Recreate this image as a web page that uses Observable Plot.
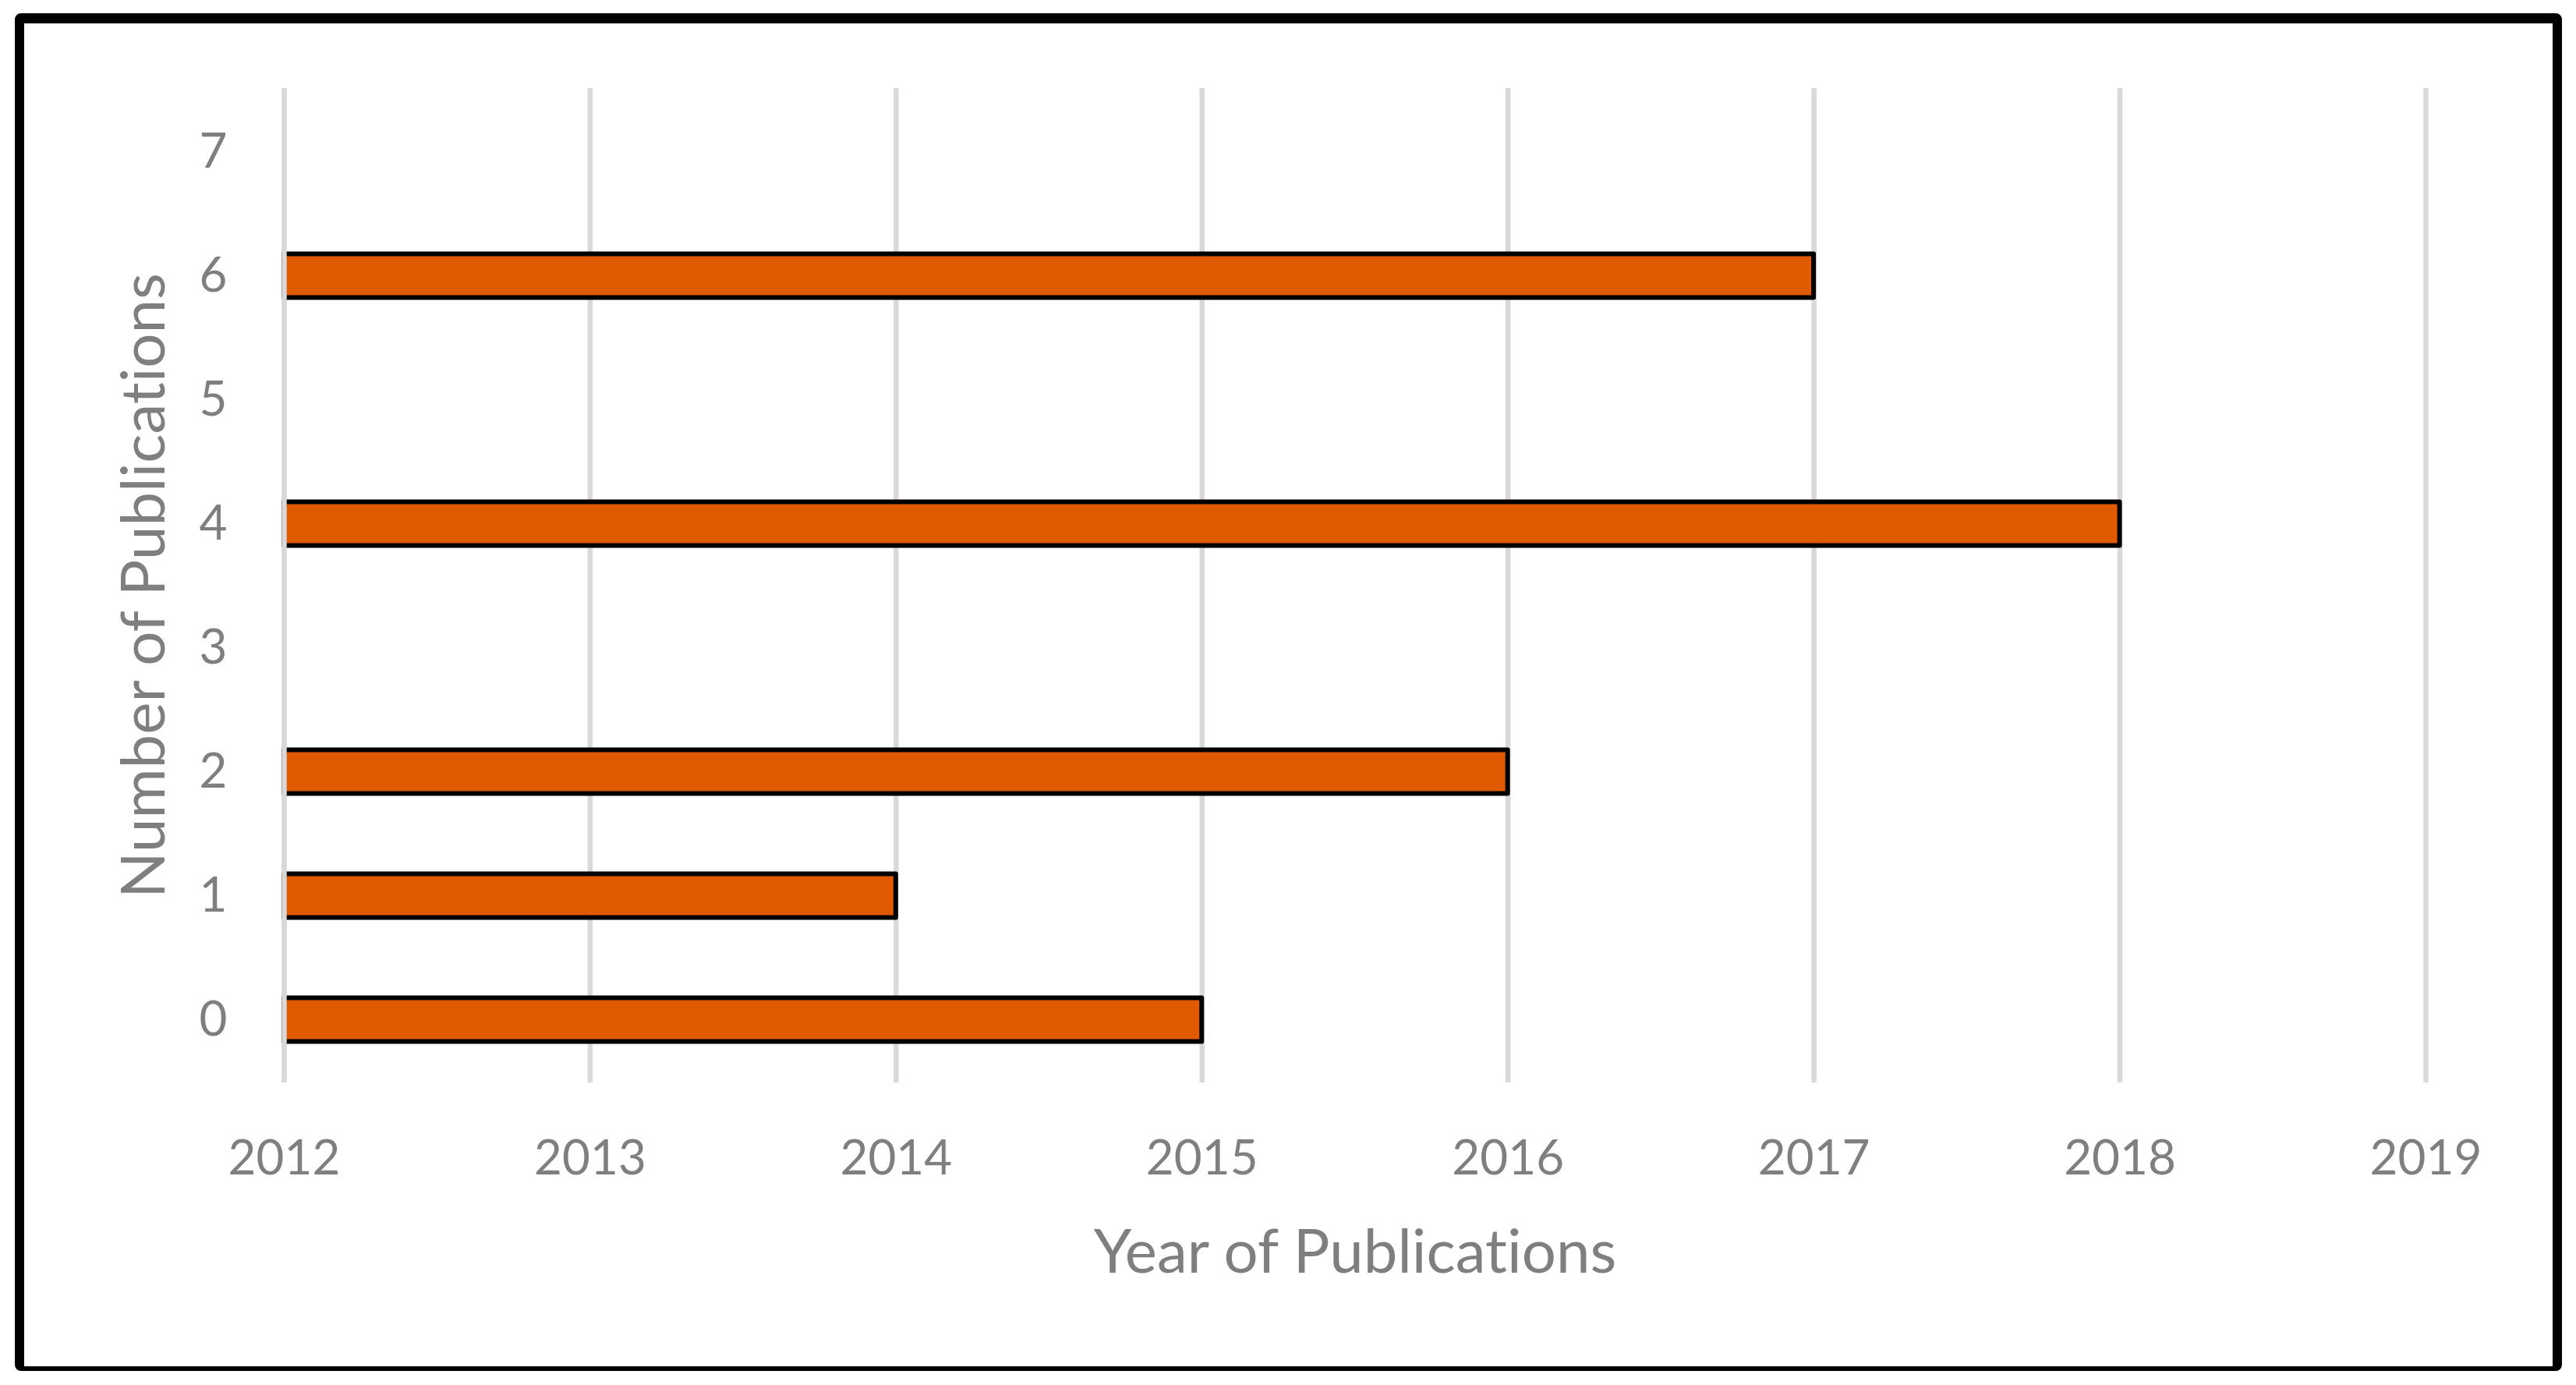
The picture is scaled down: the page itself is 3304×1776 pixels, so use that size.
<!DOCTYPE html>
<html>
<head>
<meta charset="utf-8">
<script src="https://cdn.jsdelivr.net/npm/d3@7"></script>
<script src="https://cdn.jsdelivr.net/npm/@observablehq/plot@0.6"></script>
<style>
  html, body { margin: 0; padding: 0; background: #fff; overflow: hidden; width: 3304px; height: 1776px; }
  #chart { position: absolute; left: 0; top: 0; }
  #chart svg text { font-variant-ligatures: none; font-feature-settings: "liga" 0; }
  #frame { position: absolute; left: 19px; top: 17px; width: 3267px; height: 1741px; box-sizing: border-box;
           border: 12px solid #000; border-top-width: 13px; border-bottom-width: 6px; border-radius: 8px; pointer-events: none; }
</style>
</head>
<body>
<div id="chart"></div>
<div id="frame"></div>
<script>
// Data
const counts = [0, 1, 2, 4, 6];                 // "Number of Publications" category of each bar
const years  = [2015, 2014, 2016, 2018, 2017];  // "Year of Publications" end of each bar
const baseYear = 2012;                          // axis minimum where bars start
const xTicks = [2012, 2013, 2014, 2015, 2016, 2017, 2018, 2019];
const yTicks = [0, 1, 2, 3, 4, 5, 6, 7];
const xTitle = "Year of Publications";
const yTitle = "Number of Publications";

const rows = counts.map((c, i) => ({count: c, year: years[i]}));

const textColor = "#7f7f7f";
const gridStyle = {stroke: "#d9d9d9", strokeOpacity: 1, strokeWidth: 6.5};

const chart = Plot.plot({
  width: 3304,
  height: 1776,
  marginLeft: 364,
  marginRight: 193,
  marginTop: 113,
  marginBottom: 388,
  style: {fontFamily: "Lato, 'Open Sans', sans-serif", background: "transparent", color: textColor},
  x: {domain: [xTicks[0], xTicks[xTicks.length - 1]]},
  y: {type: "band", domain: yTicks.slice().reverse(), padding: 0},
  marks: [
    Plot.gridX(xTicks, gridStyle),
    Plot.barX(rows, {
      x1: baseYear, x2: "year", y: "count",
      fill: "#E05A00", stroke: "#000", strokeWidth: 6, strokeLinejoin: "round",
      insetTop: 51.4, insetBottom: 51.4
    }),
    Plot.gridX([baseYear], gridStyle),
    Plot.axisX(xTicks, {tickSize: 0, tickPadding: 73, fontSize: 62, tickFormat: "d", fill: textColor, label: null}),
    Plot.axisY(yTicks, {tickSize: 0, tickPadding: 73, fontSize: 62, fill: textColor, label: null}),
    Plot.text([xTitle], {text: d => d, frameAnchor: "bottom", textAnchor: "middle", lineAnchor: "top", dy: 188, fontSize: 78, fill: textColor}),
    Plot.text([yTitle], {text: d => d, frameAnchor: "left", textAnchor: "middle", rotate: -90, lineAnchor: "top", dx: -209, fontSize: 78, fill: textColor})
  ]
});
document.getElementById("chart").appendChild(chart);
</script>
</body>
</html>
